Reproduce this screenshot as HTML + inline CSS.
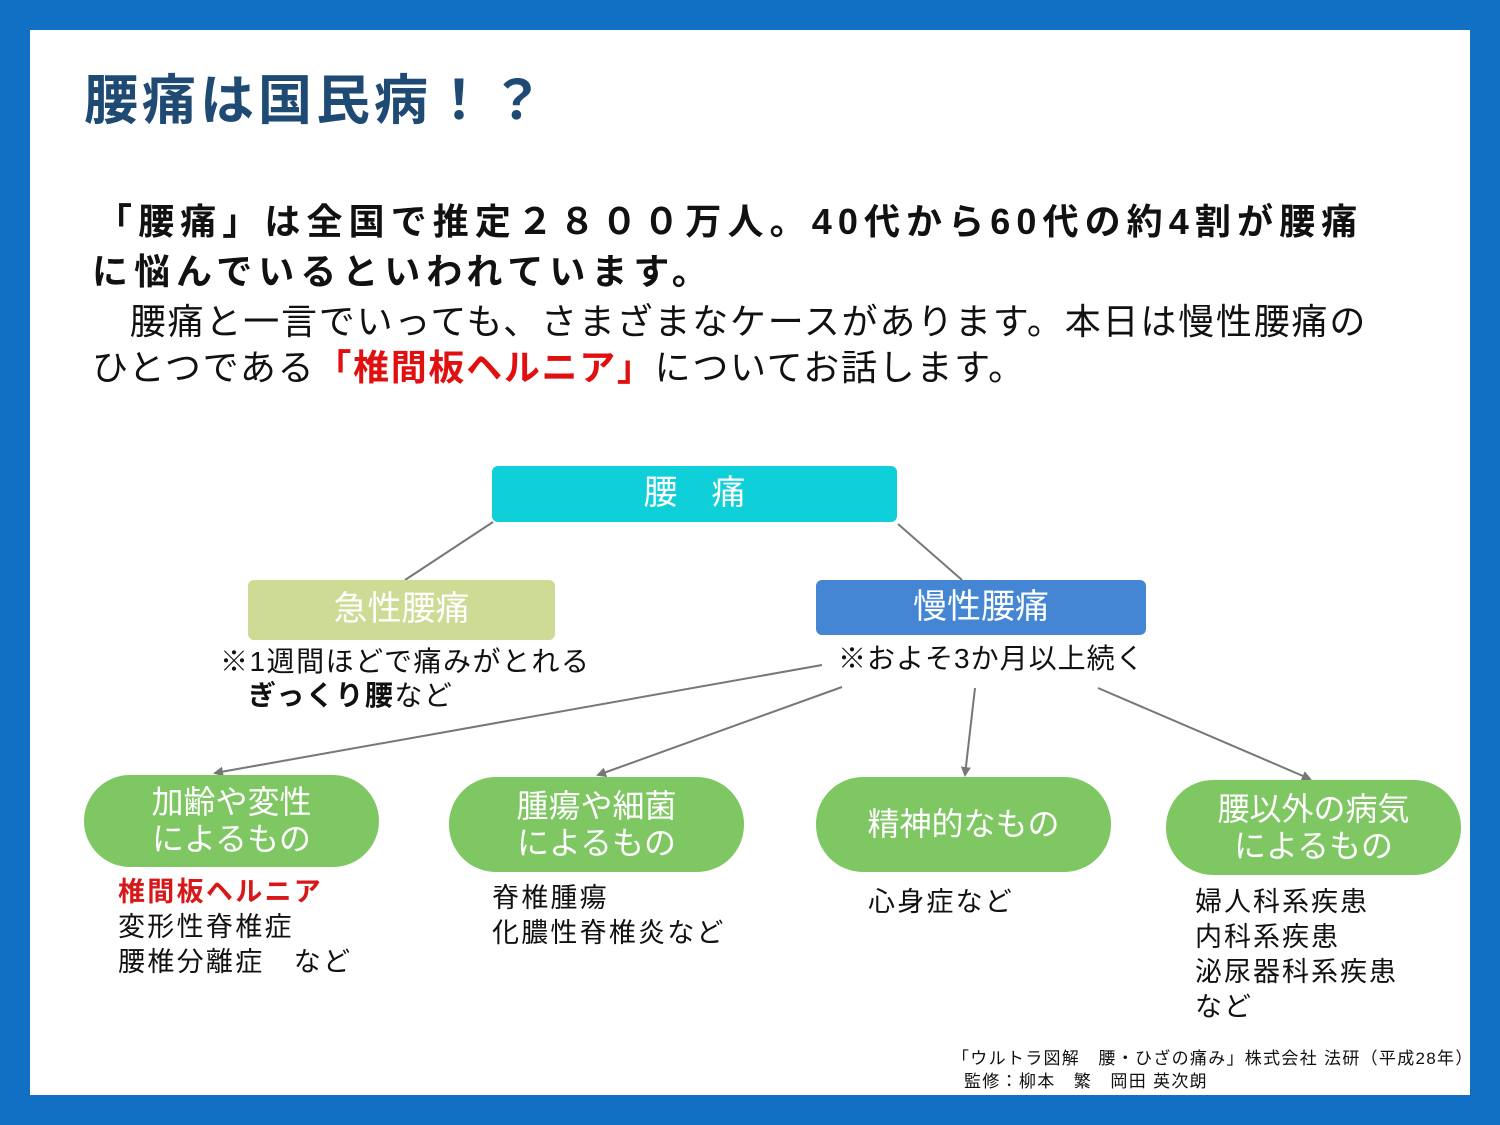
<!DOCTYPE html>
<html><head><meta charset="utf-8"><style>
body{margin:0;width:1500px;height:1125px;background:#1170c4;position:relative;overflow:hidden;font-family:"Liberation Sans","Noto Sans CJK JP",sans-serif}
.w{position:absolute;left:30px;top:30px;width:1440px;height:1065px;background:#fff}
.a{position:absolute;white-space:nowrap;line-height:1}
.box{position:absolute;display:flex;align-items:center;justify-content:center;text-align:center;color:#fff;line-height:1.15}
</style></head><body>
<div class="w"></div>
<div class="a" style="left:84px;top:74px;font-size:54px;font-weight:bold;color:#1f4a73;letter-spacing:4px">腰痛は国民病！？</div>
<div class="a" style="left:96px;top:204px;font-size:36px;font-weight:bold;color:#111;letter-spacing:6.1px">「腰痛」は全国で推定２８００万人。40代から60代の約4割が腰痛</div>
<div class="a" style="left:92px;top:254px;font-size:36px;font-weight:bold;color:#111;letter-spacing:6px">に悩んでいるといわれています。</div>
<div class="a" style="left:92px;top:304px;font-size:36px;color:#111;letter-spacing:1.8px">　腰痛と一言でいっても、さまざまなケースがあります。本日は慢性腰痛の</div>
<div class="a" style="left:92px;top:350px;font-size:36px;color:#111;letter-spacing:1.7px">ひとつである<b style="color:#e01010">「椎間板ヘルニア」</b>についてお話します。</div>

<svg style="position:absolute;left:0;top:0" width="1500" height="1125">
<defs><marker id="m" markerWidth="10" markerHeight="10" refX="8" refY="5" orient="auto" markerUnits="userSpaceOnUse"><path d="M0,0L10,5L0,10z" fill="#777"/></marker></defs>
<g stroke="#777" stroke-width="2">
<line x1="493" y1="522" x2="405" y2="580"/>
<line x1="898" y1="524" x2="962" y2="580"/>
<line x1="822" y1="665" x2="215" y2="773" marker-end="url(#m)"/>
<line x1="842" y1="687" x2="598" y2="775" marker-end="url(#m)"/>
<line x1="975" y1="688" x2="965" y2="775" marker-end="url(#m)"/>
<line x1="1098" y1="688" x2="1310" y2="779" marker-end="url(#m)"/>
</g></svg>

<div class="box" style="left:492px;top:466px;width:405px;height:56px;background:#0fcfd9;border-radius:6px;font-size:34px">腰　痛</div>
<div class="box" style="left:248px;top:580px;width:307px;height:60px;background:#cddb94;border-radius:6px;font-size:34px">急性腰痛</div>
<div class="box" style="left:816px;top:580px;width:330px;height:55px;background:#4486d4;border-radius:6px;font-size:34px">慢性腰痛</div>
<div class="a" style="left:220px;top:648px;font-size:28px;color:#111;letter-spacing:1.5px">※1週間ほどで痛みがとれる</div>
<div class="a" style="left:248px;top:682px;font-size:28px;color:#111;letter-spacing:1.5px"><b>ぎっくり腰</b>など</div>
<div class="a" style="left:838px;top:645px;font-size:28px;color:#111;letter-spacing:1px">※およそ3か月以上続く</div>

<div class="box" style="left:84px;top:775px;width:295px;height:92px;background:#7ec762;border-radius:46px;font-size:32px">加齢や変性<br>によるもの</div>
<div class="box" style="left:449px;top:777px;width:295px;height:95px;background:#7ec762;border-radius:47px;font-size:32px">腫瘍や細菌<br>によるもの</div>
<div class="box" style="left:816px;top:777px;width:295px;height:95px;background:#7ec762;border-radius:47px;font-size:32px">精神的なもの</div>
<div class="box" style="left:1166px;top:780px;width:295px;height:95px;background:#7ec762;border-radius:47px;font-size:32px">腰以外の病気<br>によるもの</div>

<div class="a" style="left:118px;top:875px;font-size:27px;line-height:35px;color:#111;letter-spacing:2.3px"><b style="color:#d81818">椎間板ヘルニア</b><br>変形性脊椎症<br>腰椎分離症　など</div>
<div class="a" style="left:492px;top:881px;font-size:27px;line-height:35px;color:#111;letter-spacing:2.2px">脊椎腫瘍<br>化膿性脊椎炎など</div>
<div class="a" style="left:868px;top:885px;font-size:27px;line-height:35px;color:#111;letter-spacing:2.2px">心身症など</div>
<div class="a" style="left:1195px;top:885px;font-size:27px;line-height:35px;color:#111;letter-spacing:2px">婦人科系疾患<br>内科系疾患<br>泌尿器科系疾患<br>など</div>

<div class="a" style="left:952px;top:1050px;font-size:17px;color:#111;letter-spacing:1.3px">「ウルトラ図解　腰・ひざの痛み」株式会社 法研（平成28年）</div>
<div class="a" style="left:964px;top:1073px;font-size:17px;color:#111;letter-spacing:1.3px">監修：柳本　繁　岡田 英次朗</div>
</body></html>
